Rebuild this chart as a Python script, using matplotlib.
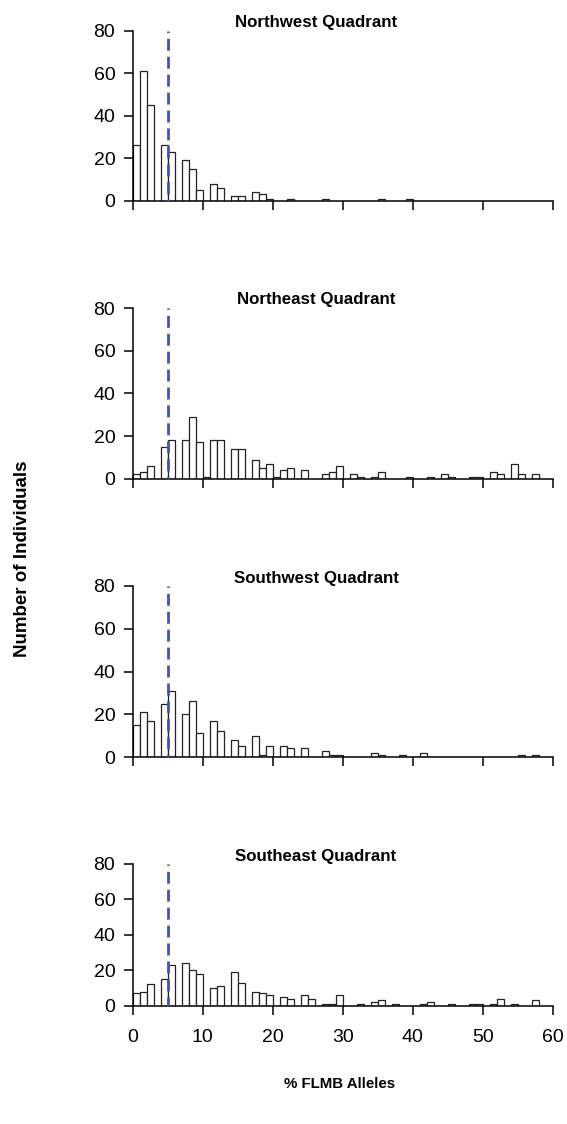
import matplotlib.pyplot as plt
import numpy as np

plt.rcParams['font.family'] = ['Liberation Sans', 'DejaVu Sans']
plt.rcParams['lines.scale_dashes'] = False

# counts per 1% bin, bins 0-1, 1-2, ... 59-60
bins = np.arange(60)

nw_counts = [26, 61, 45, 0, 26, 23, 0, 19, 15, 5,
             0, 8, 6, 0, 2, 2, 0, 4, 3, 1,
             0, 0, 1, 0, 0, 0, 0, 1, 0, 0,
             0, 0, 0, 0, 0, 1, 0, 0, 0, 1,
             0, 0, 0, 0, 0, 0, 0, 0, 0, 0,
             0, 0, 0, 0, 0, 0, 0, 0, 0, 0]

ne_counts = [2, 3, 6, 0, 15, 18, 0, 18, 29, 17,
             1, 18, 18, 0, 14, 14, 0, 9, 5, 7,
             1, 4, 5, 0, 4, 0, 0, 2, 3, 6,
             0, 2, 1, 0, 1, 3, 0, 0, 0, 1,
             0, 0, 1, 0, 2, 1, 0, 0, 1, 1,
             0, 3, 2, 0, 7, 2, 0, 2, 0, 0]

sw_counts = [15, 21, 17, 0, 25, 31, 0, 20, 26, 11,
             0, 17, 12, 0, 8, 5, 0, 10, 1, 5,
             0, 5, 4, 0, 4, 0, 0, 3, 1, 1,
             0, 0, 0, 0, 2, 1, 0, 0, 1, 0,
             0, 2, 0, 0, 0, 0, 0, 0, 0, 0,
             0, 0, 0, 0, 0, 1, 0, 1, 0, 0]

se_counts = [7, 8, 12, 0, 15, 23, 0, 24, 20, 18,
             0, 10, 11, 0, 19, 13, 0, 8, 7, 6,
             0, 5, 4, 0, 6, 4, 0, 1, 1, 6,
             0, 0, 1, 0, 2, 3, 0, 1, 0, 0,
             0, 1, 2, 0, 0, 1, 0, 0, 1, 1,
             0, 1, 4, 0, 1, 0, 0, 3, 0, 0]

titles = ['Northwest Quadrant', 'Northeast Quadrant',
          'Southwest Quadrant', 'Southeast Quadrant']
all_counts = [nw_counts, ne_counts, sw_counts, se_counts]
cutoff = 5

W, H = 567, 1124
fig = plt.figure(figsize=(W / 100, H / 100), dpi=100)

# (top, bottom) of each plot area in pixels
boxes = [(30.7, 200.7), (308.3, 478.7), (586, 757), (864, 1005.7)]
title_y = [22, 300, 578, 857]
left, right = 132.7, 552.7

for i, (counts, title) in enumerate(zip(all_counts, titles)):
    top, bot = boxes[i]
    ax = fig.add_axes([left / W, 1 - bot / H, (right - left) / W, (bot - top) / H])
    counts = np.array(counts)
    keep = counts > 0
    ax.bar(bins[keep], counts[keep], width=1, align='edge', color='white',
           edgecolor='#222222', linewidth=0.9, zorder=2)
    # 5% cutoff line
    ax.plot([cutoff, cutoff], [80, 0], color='#3d55b8', lw=2,
            ls=(7.6, (8.6, 4.3)), zorder=3)
    ax.set_xlim(0, 60)
    ax.set_ylim(0, 80)
    ax.set_yticks([0, 20, 40, 60, 80])
    ax.set_xticks(np.arange(0, 61, 10))
    for s in ['top', 'right']:
        ax.spines[s].set_visible(False)
    for s in ['left', 'bottom']:
        ax.spines[s].set_linewidth(1.1)
    ax.tick_params(direction='out', length=6.5, width=1.1, labelsize=14)
    ax.tick_params(axis='y', pad=6)
    ax.tick_params(axis='x', pad=10)
    if i < 3:
        ax.tick_params(axis='x', labelbottom=False)
    fig.text(316 / W, 1 - title_y[i] / H, title, ha='center', va='center',
             fontsize=12.2, fontweight='bold')

fig.text(23 / W, 1 - 559 / H, 'Number of Individuals', rotation=90,
         ha='center', va='center', fontsize=13.5, fontweight='bold')
fig.text(340 / W, 1 - 1084 / H, '% FLMB Alleles', ha='center', va='center',
         fontsize=10.8, fontweight='bold')

fig.savefig('out.png', dpi=100)
